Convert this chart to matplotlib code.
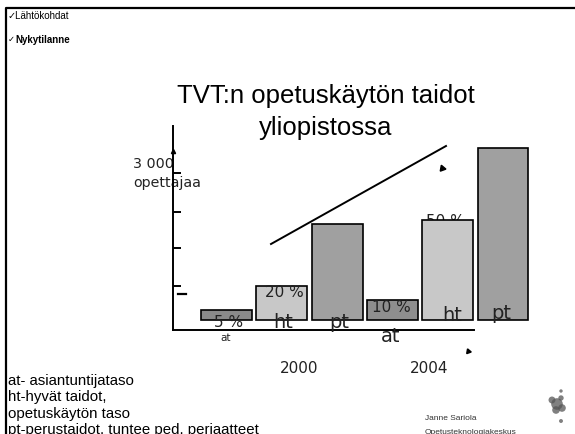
import matplotlib
matplotlib.use('Agg')
import numpy as np
from matplotlib import pyplot as plt

# data (teachers)
bar_labels = ['at', 'ht', 'pt', 'at', 'ht', 'pt']
years = ['2000', '2004']
values = [200, 700, 1950, 400, 2050, 3500]
pct_labels = ['5 %', '20 %', '', '10 %', '50 %', '']
colors = ['#8a8a8a', '#c8c8c8', '#a0a0a0', '#8e8e8e', '#c8c8c8', '#a0a0a0']
yticks = [700, 1470, 2200, 3000]
legend_lines = ['at- asiantuntijataso', 'ht-hyvät taidot,', 'opetuskäytön taso',
                'pt-perustaidot, tuntee ped. periaatteet']

sans = ['Liberation Sans', 'DejaVu Sans']
deja = ['DejaVu Sans']

fig = plt.figure(figsize=(5.75, 4.35), dpi=100)

# slide background in pixel coordinates
bg = fig.add_axes([0, 0, 1, 1])
bg.set_xlim(0, 575)
bg.set_ylim(435, 0)
bg.axis('off')
bg.plot([6, 6, 575], [435, 9, 9], color='black', lw=1.6)

bg.text(8, 16, '✓Lähtökohdat', fontsize=7, family=sans, va='center')
bg.text(8, 40, '✓', fontsize=6, family=sans, va='center')
bg.text(15, 40, 'Nykytilanne', fontsize=7, family=sans, weight='bold', va='center')

bg.text(326, 96, 'TVT:n opetuskäytön taidot', fontsize=18.5, family=sans,
        ha='center', va='center')
bg.text(326, 128, 'yliopistossa', fontsize=18.5, family=sans, ha='center', va='center')

bg.text(133, 164, '3 000', fontsize=10.3, family=deja, va='center', color='#222222')
bg.text(133, 183, 'opettajaa', fontsize=10.3, family=deja, va='center', color='#222222')

for i, line in enumerate(legend_lines):
    bg.text(8, 381 + i * 16.5, line, fontsize=10.8, family=sans, va='center')

bg.text(425, 419, 'Janne Sariola', fontsize=6, family=sans, va='center', color='#333333')
bg.text(425, 433, 'Opetusteknologiakeskus', fontsize=6, family=sans, va='center',
        color='#333333')

# trend line and small arrowheads
bg.plot([271, 446], [245, 147], color='black', lw=1.4)
bg.plot([442], [169], marker=(3, 0, -100), ms=5, color='black')
bg.plot([468], [352], marker=(3, 0, -100), ms=4, color='black')
bg.plot([178, 186], [295, 295], color='black', lw=1.6)

# logo blob
bg.scatter([557, 552, 562, 556, 561, 561, 561], [405, 401, 409, 411, 399, 392, 422],
           s=[70, 25, 30, 30, 15, 6, 8], color='#555555', alpha=0.75, lw=0)

# bar chart
ax = fig.add_axes([173 / 575, (435 - 331) / 435, (540 - 173) / 575, (331 - 120) / 435])
ax.patch.set_visible(False)
x = np.arange(len(values))
ax.bar(x, values, width=0.92, color=colors, edgecolor='black', lw=1.2, zorder=2)
ax.set_xlim(-0.967, 5.669)
ax.set_ylim(-204, 4102)
for s in ['top', 'right']:
    ax.spines[s].set_visible(False)
ax.spines['left'].set_bounds(-204, 3960)
ax.spines['bottom'].set_bounds(-0.967, 4.476)
ax.spines['left'].set_linewidth(1.4)
ax.spines['bottom'].set_linewidth(1.4)
ax.set_xticks([])
ax.set_yticks(yticks)
ax.set_yticklabels([])
ax.tick_params(axis='y', direction='in', length=6, width=1.4)
ax.plot([0], [3450], transform=ax.get_yaxis_transform(), marker='^', ms=3,
        color='black', clip_on=False)

T = bg.transData
# percentage labels (pixel positions)
pct_pos = [(229, 323), (284, 293), None, (391, 308), (445, 222), None]
for lab, pos in zip(pct_labels, pct_pos):
    if pos:
        z = 1 if lab == '50 %' else 3
        ax.text(pos[0], pos[1], lab, transform=T, fontsize=11, family=deja,
                ha='center', va='center', color='#222222', zorder=z)

name_pos = [(226, 338, 7.5), (283, 323, 14), (339, 323, 14), (391, 337, 14),
            (452, 316, 14), (501, 314, 14)]
for lab, (px, py, fs) in zip(bar_labels, name_pos):
    ax.text(px, py, lab, transform=T, fontsize=fs, family=deja, ha='center',
            va='center', color='#222222', zorder=3)

for yr, px in zip(years, [299, 429]):
    bg.text(px, 369, yr, fontsize=11, family=deja, ha='center', va='center',
            color='#222222')

fig.savefig('out.png', dpi=100)
